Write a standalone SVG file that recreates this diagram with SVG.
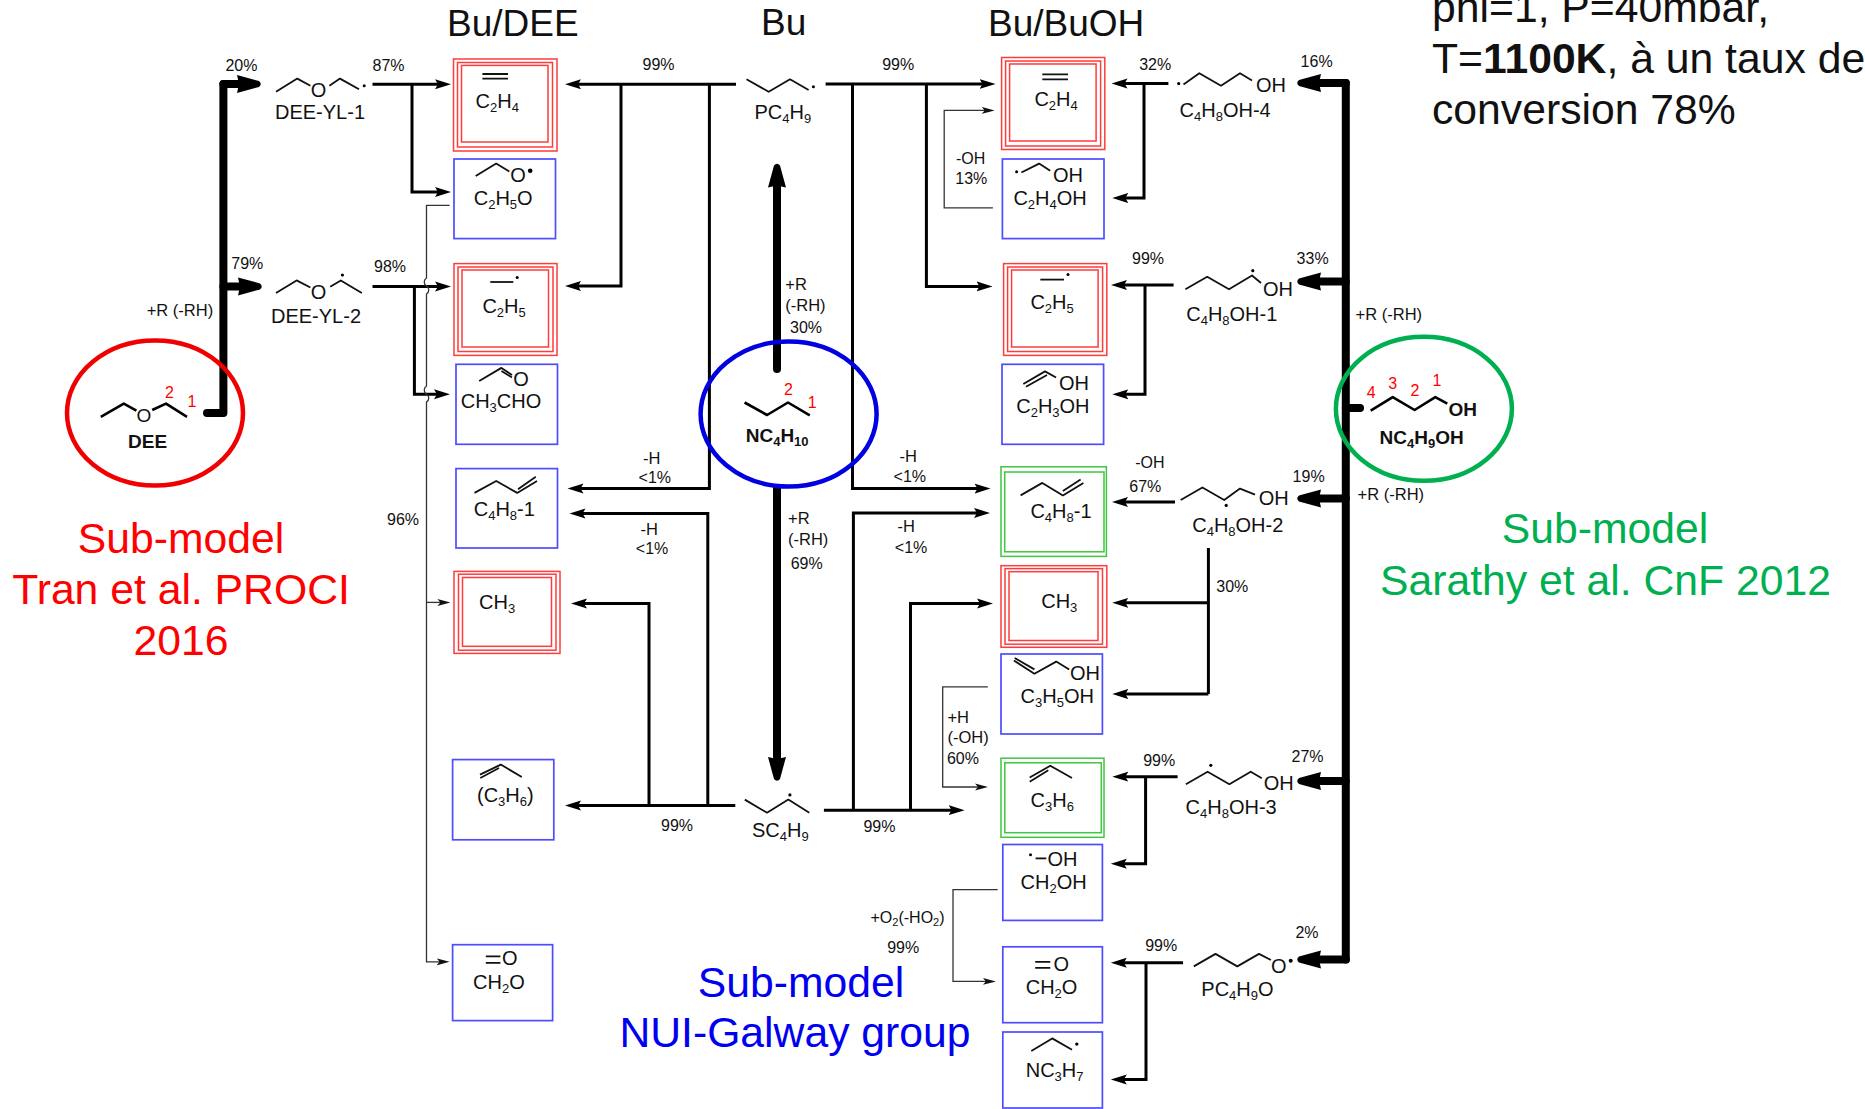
<svg xmlns="http://www.w3.org/2000/svg" width="1865" height="1109" viewBox="0 0 1865 1109">
<style>
text{font-family:"Liberation Sans",Arial,sans-serif;fill:#111}
.m{font-size:20px}.p{font-size:16px}.l{font-size:16.5px}.t{font-size:37px}.h{font-size:42.7px}
.bd{font-size:19px;font-weight:bold}.s{font-size:13px}.ss{font-size:11px}
.n{font-size:16px;fill:#f00}
.c{text-anchor:middle}
.ring{fill:none;stroke:#ff3b3b;stroke-width:1.5}
.blue{fill:none;stroke:#4d4dff;stroke-width:1.7}
.green{fill:none;stroke:#3fc63f;stroke-width:1.5}
.mol{fill:none;stroke:#111;stroke-width:1.8;stroke-linejoin:round}
.molb{fill:none;stroke:#000;stroke-width:2.6;stroke-linejoin:round}
.med{fill:none;stroke:#000;stroke-width:3;marker-end:url(#ah)}
.lin{fill:none;stroke:#000;stroke-width:3}
.thin{fill:none;stroke:#333;stroke-width:1.3;marker-end:url(#at)}
.thk{fill:none;stroke:#000;stroke-width:8;stroke-linejoin:round;stroke-linecap:round}
.thka{fill:none;stroke:#000;stroke-width:8;stroke-linejoin:round;stroke-linecap:round;marker-end:url(#ab)}
.dot{fill:#000}
</style>
<defs>
<marker id="ah" markerUnits="userSpaceOnUse" markerWidth="18" markerHeight="12" refX="8" refY="6" orient="auto"><path d="M0,1 L16,6 L0,11 L3,6Z" fill="#000"/></marker>
<marker id="at" markerUnits="userSpaceOnUse" markerWidth="15" markerHeight="10" refX="6" refY="5" orient="auto"><path d="M0,1.5 L13,5 L0,8.5 L3,5Z" fill="#111"/></marker>
<marker id="ab" markerUnits="userSpaceOnUse" markerWidth="28" markerHeight="22" refX="6" refY="11" orient="auto"><path d="M0,2 L22,8 Q25.5,11 22,14 L0,20 L2,11Z" fill="#000"/></marker>
</defs>
<g id="connectors">
<path class="thk" d="M207,413H223.4V84"/>
<path class="thka" d="M223.4,84H243"/>
<path class="thka" d="M223.4,286.4H244"/>
<path class="thk" d="M1345.8,83V959.5"/>
<path class="thka" d="M1345.8,83H1315"/>
<path class="thka" d="M1345.8,281.4H1315"/>
<path class="thka" d="M1345.8,498.6H1315"/>
<path class="thka" d="M1345.8,781H1315"/>
<path class="thka" d="M1345.8,959.5H1315"/>
<path class="thk" d="M1345.8,408H1360"/>
<path class="thka" d="M777,369V181.5"/>
<path class="thka" d="M777,489V763"/>
<path class="med" d="M372.5,84.3H443"/>
<path class="med" d="M412,84.3V192H443"/>
<path class="med" d="M372.5,286.5H443"/>
<path class="med" d="M414.4,286.5V394.3H442"/>
<path class="med" d="M736,84.3H573"/>
<path class="med" d="M621,84.3V286H573"/>
<path class="med" d="M709.4,84.3V488.6H575.5"/>
<path class="med" d="M707.8,805.6V513.6H577.5"/>
<path class="med" d="M735.3,805.6H573"/>
<path class="med" d="M649,805.6V603.5H579"/>
<path class="med" d="M825.6,84H987.6"/>
<path class="med" d="M852.5,84V488.6H982.5"/>
<path class="med" d="M926.4,84V286.4H984.5"/>
<path class="med" d="M823.9,810.2H956.6"/>
<path class="med" d="M853.4,810.2V512.9H982"/>
<path class="med" d="M910.5,810.2V603.5H985"/>
<path class="med" d="M1168.4,83.6H1119.5"/>
<path class="med" d="M1144,83.6V198H1120.3"/>
<path class="med" d="M1173.6,285H1119"/>
<path class="med" d="M1145,285V394.3H1120.3"/>
<path class="med" d="M1175,502H1120"/>
<path class="lin" d="M1208.4,548V694"/>
<path class="med" d="M1208.4,602.8H1120.3"/>
<path class="med" d="M1208.4,694H1120.3"/>
<path class="med" d="M1177.6,776.7H1120.3"/>
<path class="med" d="M1145.6,776.7V863.7H1118.8"/>
<path class="med" d="M1183,962.8H1118.8"/>
<path class="med" d="M1146,962.8V1079.4H1118.8"/>
<path class="thin" d="M449.6,205.4H426.5V278c-3,2 -3,6 0,8c3,2 3,6 0,8V386c-3,2 -3,6 0,8c3,2 3,6 0,8V961.8H442.6"/>
<path class="thin" d="M426.5,602.4H443.4"/>
<path class="thin" d="M992.9,207.9H944.2V110.4H987.7"/>
<path class="thin" d="M987.8,686.9H942.7V787H981"/>
<path class="thin" d="M997.7,889.7H953V981.4H988.9"/>
</g>

<g id="sub-model-circles" fill="none" stroke-width="4.5">
<ellipse cx="155" cy="413" rx="88" ry="72.5" stroke="#f00000"/>
<ellipse cx="788.6" cy="414" rx="88" ry="72.5" stroke="#0000e0"/>
<ellipse cx="1423.9" cy="408.8" rx="88" ry="72" stroke="#00b050"/>
</g>

<g id="headers">
<text class="t" x="447" y="36">Bu/DEE</text>
<text class="t" x="761" y="35">Bu</text>
<text class="t" x="988" y="36">Bu/BuOH</text>
</g>
<g id="conditions">
<text class="h" x="1432" y="22">phi=1, P=40mbar,</text>
<text class="h" x="1432" y="73">T=<tspan font-weight="bold">1100K</tspan>, à un taux de</text>
<text class="h" x="1432" y="124">conversion 78%</text>
</g>
<g id="submodel-labels">
<text class="h c" style="fill:#f00" x="181" y="553">Sub-model</text>
<text class="h c" style="fill:#f00" x="181" y="604">Tran et al. PROCI</text>
<text class="h c" style="fill:#f00" x="181" y="655">2016</text>
<text class="h c" style="fill:#0000f0" x="801" y="996.5">Sub-model</text>
<text class="h c" style="fill:#0000f0" x="795" y="1047">NUI-Galway group</text>
<text class="h c" style="fill:#00b050" x="1605" y="543">Sub-model</text>
<text class="h c" style="fill:#00b050" x="1605.5" y="595">Sarathy et al. CnF 2012</text>
</g>

<g id="DEE">
<path class="molb" d="M100.8,416.8L123.8,403.6L136.4,410.7M152.2,410L166,403.6L187,416.8"/>
<text class="bd c" style="font-weight:normal" x="143.8" y="422">O</text>
<text class="bd" x="128" y="447.5">DEE</text>
<text class="n" x="165" y="397.5">2</text><text class="n" x="187.4" y="407">1</text>
</g>
<g id="NC4H10">
<path class="molb" d="M744.6,402.5L767.1,415L788,402.5L809.8,415.4"/>
<text class="bd" x="745.7" y="442">NC<tspan class="s" dy="4">4</tspan><tspan dy="-4">H</tspan><tspan class="s" dy="4">10</tspan></text>
<text class="n" x="784" y="394.6">2</text><text class="n" x="807.8" y="407.9">1</text>
</g>
<g id="NC4H9OH">
<path class="molb" d="M1370.7,410.7L1392.7,397.1L1414.6,410L1435.3,397.1L1447.3,403.6"/>
<text class="bd" x="1448.5" y="416">OH</text>
<text class="bd" x="1379.5" y="444">NC<tspan class="s" dy="4">4</tspan><tspan dy="-4">H</tspan><tspan class="s" dy="4">9</tspan><tspan dy="-4">OH</tspan></text>
<text class="n" x="1366.7" y="397.5">4</text><text class="n" x="1388.3" y="389.3">3</text><text class="n" x="1410.6" y="396.4">2</text><text class="n" x="1432.5" y="386.4">1</text>
</g>

<g id="DEE-YL-1">
<path class="mol" d="M276,91.8L297.3,78.6L310.4,85.7M329.4,85.7L340,78.6L359,89.3"/>
<text class="m c" x="318.5" y="97">O</text><circle class="dot" cx="364.2" cy="85.7" r="1.5"/>
<text class="m" x="275" y="118.6">DEE-YL-1</text>
</g>
<g id="DEE-YL-2">
<path class="mol" d="M276,292.9L296.6,280.4L310.4,287.5M330.2,286.8L340.8,280.4L361.8,292.9"/>
<text class="m c" x="318.5" y="298.6">O</text><circle class="dot" cx="342.4" cy="275" r="1.6"/>
<text class="m" x="271" y="323.2">DEE-YL-2</text>
</g>
<g id="PC4H9">
<path class="mol" d="M746.5,79.3L768.7,91.8L790,79.3L808.6,90"/><circle class="dot" cx="813.4" cy="86.8" r="1.5"/>
<text class="m" x="754.4" y="118.6">PC<tspan class="s" dy="4">4</tspan><tspan dy="-4">H</tspan><tspan class="s" dy="4">9</tspan></text>
</g>
<g id="SC4H9">
<path class="mol" d="M744.8,799.6L767,812.7L788.3,799.6L809.3,812.7"/><circle class="dot" cx="789.9" cy="794.9" r="1.6"/>
<text class="m" x="751.9" y="837.3">SC<tspan class="s" dy="4">4</tspan><tspan dy="-4">H</tspan><tspan class="s" dy="4">9</tspan></text>
</g>
<g id="C4H8OH-4">
<circle class="dot" cx="1178.7" cy="83.6" r="1.6"/>
<path class="mol" d="M1183.5,84.6L1199.3,73.2L1221,85.7L1240,73.2L1252,80.4"/>
<text class="m" x="1256" y="92">OH</text>
<text class="m" x="1179.5" y="117.1">C<tspan class="s" dy="4">4</tspan><tspan dy="-4">H</tspan><tspan class="s" dy="4">8</tspan><tspan dy="-4">OH-4</tspan></text>
</g>
<g id="C4H8OH-1">
<path class="mol" d="M1185.4,289.3L1207.2,276.8L1229,289.3L1252,275.5L1261,283"/><circle class="dot" cx="1252.8" cy="270.7" r="1.6"/>
<text class="m" x="1263" y="295.7">OH</text>
<text class="m" x="1186.2" y="321.4">C<tspan class="s" dy="4">4</tspan><tspan dy="-4">H</tspan><tspan class="s" dy="4">8</tspan><tspan dy="-4">OH-1</tspan></text>
</g>
<g id="C4H8OH-2">
<path class="mol" d="M1180.7,500L1202.4,487.5L1224.2,500L1240,488.6L1255,494.6"/><circle class="dot" cx="1226.2" cy="505.4" r="1.6"/>
<text class="m" x="1258.7" y="505.4">OH</text>
<text class="m" x="1192.2" y="532">C<tspan class="s" dy="4">4</tspan><tspan dy="-4">H</tspan><tspan class="s" dy="4">8</tspan><tspan dy="-4">OH-2</tspan></text>
</g>
<g id="C4H8OH-3">
<path class="mol" d="M1185.9,784.2L1207.6,771.7L1229.4,784.2L1250.7,771.7L1261.8,778.2"/><circle class="dot" cx="1210.8" cy="765.3" r="1.6"/>
<text class="m" x="1263.8" y="790">OH</text>
<text class="m" x="1185.5" y="813.8">C<tspan class="s" dy="4">4</tspan><tspan dy="-4">H</tspan><tspan class="s" dy="4">8</tspan><tspan dy="-4">OH-3</tspan></text>
</g>
<g id="PC4H9O">
<path class="mol" d="M1193.8,966.4L1215.5,953.9L1237.3,966.4L1259,953.9L1270.9,960"/>
<text class="m c" x="1278.8" y="972.5">O</text><circle class="dot" cx="1290.7" cy="960.7" r="2"/>
<text class="m" x="1201.3" y="995.6">PC<tspan class="s" dy="4">4</tspan><tspan dy="-4">H</tspan><tspan class="s" dy="4">9</tspan><tspan dy="-4">O</tspan></text>
</g>

<g id="L-C2H4">
<rect class="ring" x="453.5" y="59" width="103.5" height="92"/><rect class="ring" x="457.5" y="62.5" width="95" height="84.5"/><rect class="ring" x="461.5" y="65.4" width="86.5" height="76.6"/>
<path class="mol" d="M482.4,74H508M482.4,78.6H508"/>
<text class="m" x="475.5" y="108">C<tspan class="s" dy="4">2</tspan><tspan dy="-4">H</tspan><tspan class="s" dy="4">4</tspan></text>
</g>
<g id="L-C2H5O">
<rect class="blue" x="454" y="159" width="101.5" height="79.6"/>
<path class="mol" d="M475.7,176L496.2,163.6L509.3,171.4"/>
<text class="m c" x="518" y="182">O</text><circle class="dot" cx="530.2" cy="170.7" r="2.3"/>
<text class="m" x="473.7" y="205">C<tspan class="s" dy="4">2</tspan><tspan dy="-4">H</tspan><tspan class="s" dy="4">5</tspan><tspan dy="-4">O</tspan></text>
</g>
<g id="L-C2H5">
<rect class="ring" x="454" y="263.6" width="103" height="91.8"/><rect class="ring" x="458" y="267" width="95" height="84.5"/><rect class="ring" x="462" y="270" width="86.5" height="77"/>
<path class="mol" d="M490.3,282H513.3"/><circle class="dot" cx="517.2" cy="277.5" r="1.5"/>
<text class="m" x="482.4" y="313">C<tspan class="s" dy="4">2</tspan><tspan dy="-4">H</tspan><tspan class="s" dy="4">5</tspan></text>
</g>
<g id="L-CH3CHO">
<rect class="blue" x="456" y="364.3" width="101.5" height="80"/>
<path class="mol" d="M479.2,381L501.4,367.9L512,375M501.4,371L512,377.5"/>
<text class="m c" x="521" y="385.7">O</text>
<text class="m" x="460.7" y="407.5">CH<tspan class="s" dy="4">3</tspan><tspan dy="-4">CHO</tspan></text>
</g>
<g id="L-C4H8-1">
<rect class="blue" x="456" y="468.6" width="101.5" height="79.4"/>
<path class="mol" d="M474.5,492.9L496.2,481L517.2,492.9L537,481M518,489.3L535.8,476.8"/>
<text class="m" x="473.7" y="516">C<tspan class="s" dy="4">4</tspan><tspan dy="-4">H</tspan><tspan class="s" dy="4">8</tspan><tspan dy="-4">-1</tspan></text>
</g>
<g id="L-CH3">
<rect class="ring" x="454" y="571.4" width="106" height="82"/><rect class="ring" x="458.5" y="574.2" width="97.5" height="76"/><rect class="ring" x="462.5" y="577.5" width="89" height="68.8"/>
<text class="m" x="479" y="609">CH<tspan class="s" dy="4">3</tspan></text>
</g>
<g id="L-C3H6">
<rect class="blue" x="452.6" y="759.6" width="101.2" height="80.2"/>
<path class="mol" d="M480,774.6L500.8,764.6L521.8,777M480.3,778L499,768"/>
<text class="m" x="477" y="801.7">(C<tspan class="s" dy="4">3</tspan><tspan dy="-4">H</tspan><tspan class="s" dy="4">6</tspan><tspan dy="-4">)</tspan></text>
</g>
<g id="L-CH2O">
<rect class="blue" x="452.6" y="944.7" width="100" height="75.9"/>
<path class="mol" d="M485.8,956.4H500.4M485.8,962.8H500.4"/>
<text class="m" x="502" y="965.3">O</text>
<text class="m" x="473" y="988.5">CH<tspan class="s" dy="4">2</tspan><tspan dy="-4">O</tspan></text>
</g>

<g id="R-C2H4">
<rect class="ring" x="1001.6" y="57.5" width="103.2" height="92"/><rect class="ring" x="1005.6" y="61" width="95" height="85"/><rect class="ring" x="1009.6" y="64" width="86.5" height="77"/>
<path class="mol" d="M1042.3,74.3H1068M1042.3,79.3H1068"/>
<text class="m" x="1034.4" y="105.5">C<tspan class="s" dy="4">2</tspan><tspan dy="-4">H</tspan><tspan class="s" dy="4">4</tspan></text>
</g>
<g id="R-C2H4OH">
<rect class="blue" x="1002.4" y="159" width="101.6" height="79.6"/>
<circle class="dot" cx="1016.6" cy="171.8" r="1.5"/>
<path class="mol" d="M1021.4,172.5L1039.1,163.6L1050.2,170.7"/>
<text class="m" x="1053" y="182.1">OH</text>
<text class="m" x="1013.4" y="205.4">C<tspan class="s" dy="4">2</tspan><tspan dy="-4">H</tspan><tspan class="s" dy="4">4</tspan><tspan dy="-4">OH</tspan></text>
</g>
<g id="R-C2H5">
<rect class="ring" x="1003.6" y="263.6" width="103.2" height="91.8"/><rect class="ring" x="1007.6" y="267" width="95" height="84.5"/><rect class="ring" x="1011.6" y="270" width="86.5" height="77"/>
<path class="mol" d="M1040.3,279.6H1064"/><circle class="dot" cx="1068" cy="274.6" r="1.5"/>
<text class="m" x="1030.4" y="309">C<tspan class="s" dy="4">2</tspan><tspan dy="-4">H</tspan><tspan class="s" dy="4">5</tspan></text>
</g>
<g id="R-C2H3OH">
<rect class="blue" x="1002" y="364.3" width="101.6" height="80"/>
<path class="mol" d="M1023.3,384L1045,371.4L1056.1,377.5M1026,386.8L1047,375"/>
<text class="m" x="1059" y="390">OH</text>
<text class="m" x="1016.2" y="412.5">C<tspan class="s" dy="4">2</tspan><tspan dy="-4">H</tspan><tspan class="s" dy="4">3</tspan><tspan dy="-4">OH</tspan></text>
</g>
<g id="R-C4H8-1">
<rect class="green" x="1001" y="466.8" width="105.4" height="89.6"/><rect class="green" x="1004.7" y="472" width="99.3" height="79.8"/>
<path class="mol" d="M1020.6,495.4L1042.3,482.9L1062.9,495.4L1083.4,482.9M1062.9,491L1080.6,479.6"/>
<text class="m" x="1030.4" y="517.9">C<tspan class="s" dy="4">4</tspan><tspan dy="-4">H</tspan><tspan class="s" dy="4">8</tspan><tspan dy="-4">-1</tspan></text>
</g>
<g id="R-CH3">
<rect class="ring" x="1001" y="565.7" width="105.8" height="81.6"/><rect class="ring" x="1005" y="568.6" width="97.5" height="75.6"/><rect class="ring" x="1009" y="571.7" width="89" height="68.8"/>
<text class="m" x="1041.2" y="607.8">CH<tspan class="s" dy="4">3</tspan></text>
</g>
<g id="R-C3H5OH">
<rect class="blue" x="1001" y="654" width="101.4" height="80"/>
<path class="mol" d="M1013.9,660.5L1034.4,673.7L1056.2,661.6L1069.2,669.4M1014.7,658L1034.4,669.4"/>
<text class="m" x="1070" y="680">OH</text>
<text class="m" x="1020.6" y="703.3">C<tspan class="s" dy="4">3</tspan><tspan dy="-4">H</tspan><tspan class="s" dy="4">5</tspan><tspan dy="-4">OH</tspan></text>
</g>
<g id="R-C3H6">
<rect class="green" x="1001" y="758.2" width="103" height="79.1"/><rect class="green" x="1004.8" y="762.8" width="96.5" height="69.9"/>
<path class="mol" d="M1029.7,777.5L1050.3,765.7L1072,778M1029.7,781.7L1048.3,770.3"/>
<text class="m" x="1030.5" y="806.7">C<tspan class="s" dy="4">3</tspan><tspan dy="-4">H</tspan><tspan class="s" dy="4">6</tspan></text>
</g>
<g id="R-CH2OH">
<rect class="blue" x="1002.8" y="844.5" width="99.6" height="75.9"/>
<circle class="dot" cx="1030.5" cy="854.8" r="1.5"/><path class="mol" d="M1035.6,858.4H1046.3"/>
<text class="m" x="1047.5" y="865.5">OH</text>
<text class="m" x="1020.6" y="889.4">CH<tspan class="s" dy="4">2</tspan><tspan dy="-4">OH</tspan></text>
</g>
<g id="R-CH2O">
<rect class="blue" x="1002.8" y="946.8" width="99.6" height="75.9"/>
<path class="mol" d="M1035.2,961.8H1050.3M1035.2,967.8H1050.3"/>
<text class="m" x="1053.4" y="970.7">O</text>
<text class="m" x="1025.7" y="993.9">CH<tspan class="s" dy="4">2</tspan><tspan dy="-4">O</tspan></text>
</g>
<g id="R-NC3H7">
<rect class="blue" x="1002.8" y="1032" width="99.6" height="76"/>
<path class="mol" d="M1031.3,1050.9L1052.2,1038.4L1072,1049.8"/><circle class="dot" cx="1076.8" cy="1044.1" r="1.7"/>
<text class="m" x="1025.7" y="1076.9">NC<tspan class="s" dy="4">3</tspan><tspan dy="-4">H</tspan><tspan class="s" dy="4">7</tspan></text>
</g>

<g id="connector-labels">
<text class="p" x="225.4" y="70.7">20%</text>
<text class="p" x="372.5" y="70.7">87%</text>
<text class="p" x="231.3" y="268.6">79%</text>
<text class="p" x="374" y="272">98%</text>
<text class="l" x="146.7" y="315.7">+R (-RH)</text>
<text class="p" x="387" y="525">96%</text>
<text class="p" x="642.5" y="69.6">99%</text>
<text class="p" x="882.2" y="69.6">99%</text>
<text class="p" x="1139.2" y="69.6">32%</text>
<text class="p" x="956" y="164.3">-OH</text>
<text class="p" x="955.3" y="184.3">13%</text>
<text class="p" x="1132" y="264.3">99%</text>
<text class="l" x="785.3" y="290.4">+R</text>
<text class="l" x="785.3" y="310.7">(-RH)</text>
<text class="p" x="790" y="332.9">30%</text>
<text class="l" x="643" y="464.3">-H</text>
<text class="p" x="638.6" y="482.9">&lt;1%</text>
<text class="l" x="640.6" y="534.6">-H</text>
<text class="p" x="635.8" y="554.3">&lt;1%</text>
<text class="l" x="899.6" y="461.8">-H</text>
<text class="p" x="893.6" y="482.1">&lt;1%</text>
<text class="l" x="897.6" y="532.1">-H</text>
<text class="p" x="894.8" y="552.5">&lt;1%</text>
<text class="l" x="788" y="524.3">+R</text>
<text class="l" x="788" y="544.6">(-RH)</text>
<text class="p" x="790.7" y="568.5">69%</text>
<text class="p" x="1135.2" y="467.9">-OH</text>
<text class="p" x="1129.3" y="491.8">67%</text>
<text class="p" x="1300.6" y="66.8">16%</text>
<text class="p" x="1296.6" y="263.6">33%</text>
<text class="l" x="1355.6" y="319.6">+R (-RH)</text>
<text class="l" x="1357.6" y="500">+R (-RH)</text>
<text class="p" x="1292.6" y="482">19%</text>
<text class="p" x="1216.3" y="592">30%</text>
<text class="l" x="947.4" y="722.9">+H</text>
<text class="l" x="947.4" y="743.2">(-OH)</text>
<text class="p" x="946.9" y="763.9">60%</text>
<text class="p" x="1143.2" y="766.4">99%</text>
<text class="p" x="1291.5" y="762">27%</text>
<text class="p" x="1145.2" y="951">99%</text>
<text class="p" x="1295.4" y="937.9">2%</text>
<text class="p" x="661" y="831">99%</text>
<text class="p" x="863.4" y="831.6">99%</text>
<text class="p" x="870.5" y="922.5">+O<tspan class="ss" dy="3">2</tspan><tspan dy="-3">(-HO</tspan><tspan class="ss" dy="3">2</tspan><tspan dy="-3">)</tspan></text>
<text class="p" x="887.2" y="952.9">99%</text>
</g>
</svg>
